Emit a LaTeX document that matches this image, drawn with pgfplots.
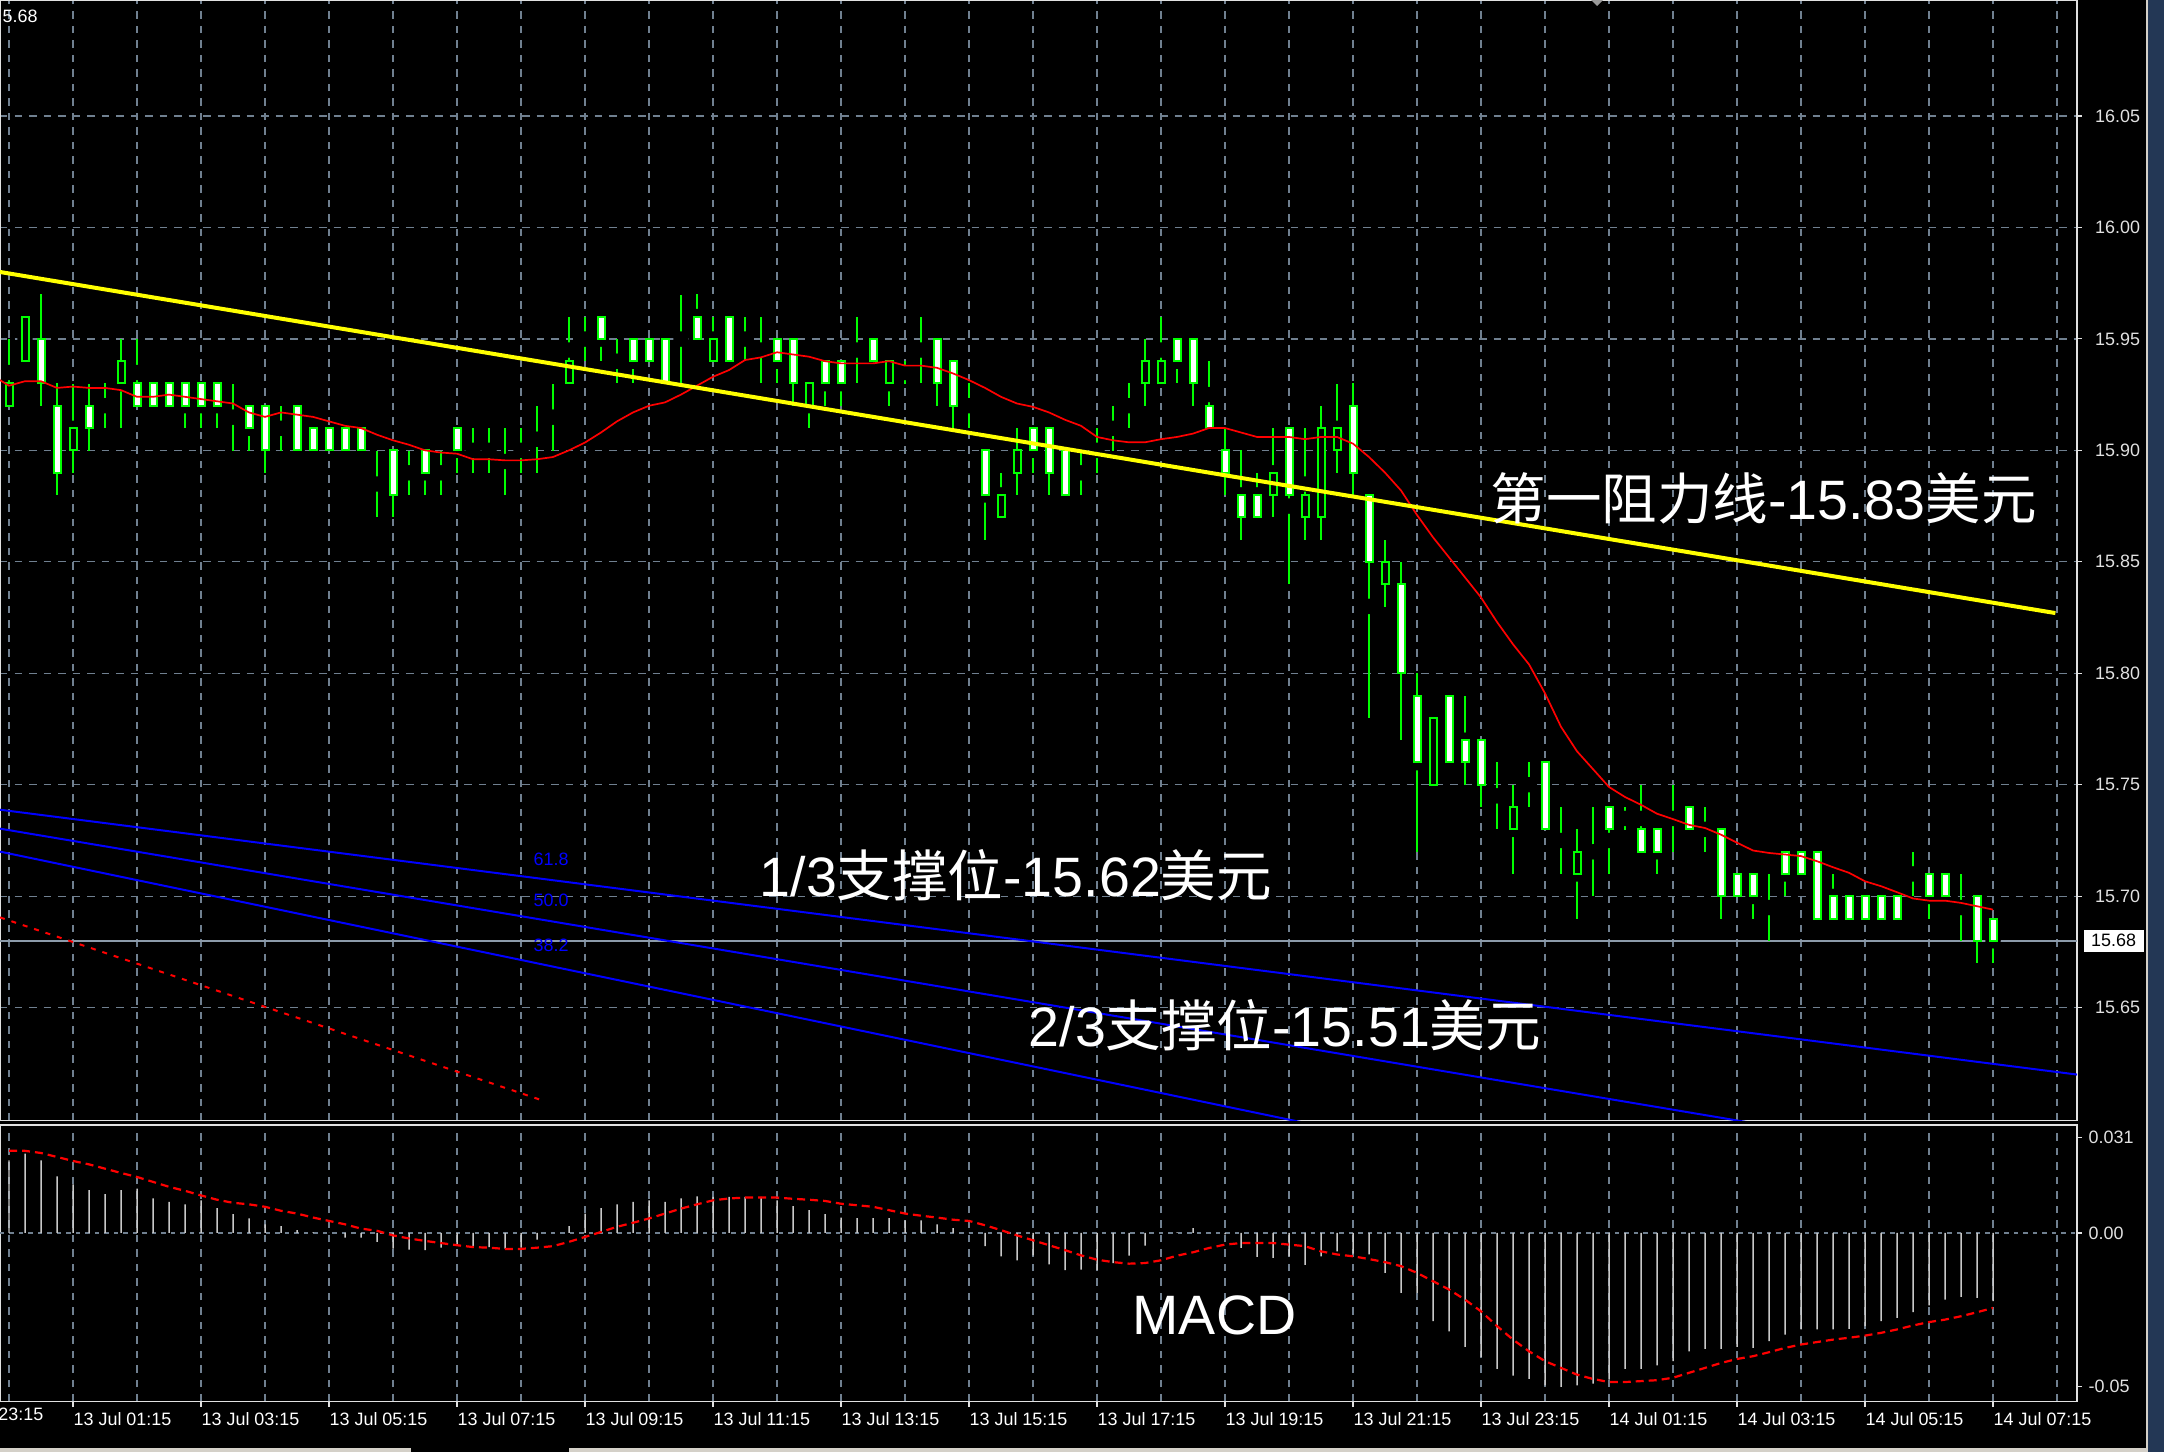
\documentclass[border=0pt]{standalone}
\usepackage{pgfplots}
\pgfplotsset{compat=1.18}
\usepackage{pgfplotstable}
\usepackage{fontspec}
\setmainfont{Liberation Sans}
\newfontfamily\cjk{Noto Sans CJK SC}
\definecolor{cgreen}{RGB}{0,255,0}
\definecolor{gridc}{RGB}{112,128,144}
\definecolor{pricel}{RGB}{140,155,170}
\definecolor{histc}{RGB}{200,200,200}
\definecolor{fibblue}{RGB}{0,0,255}
\definecolor{ylw}{RGB}{255,255,0}
\definecolor{axc}{RGB}{225,225,225}
\definecolor{winbg}{RGB}{212,208,200}
\definecolor{deskblue}{RGB}{35,55,85}

\pgfplotstableread{
k o h l c
-4 15.92 15.95 15.92 15.93
-3 15.94 15.96 15.94 15.96
-2 15.95 15.97 15.92 15.93
-1 15.92 15.93 15.88 15.89
0 15.90 15.93 15.89 15.91
1 15.92 15.93 15.90 15.91
2 15.92 15.93 15.91 15.92
3 15.93 15.95 15.91 15.94
4 15.93 15.95 15.92 15.92
5 15.93 15.93 15.92 15.92
6 15.93 15.93 15.92 15.92
7 15.93 15.93 15.91 15.92
8 15.93 15.93 15.91 15.92
9 15.93 15.93 15.91 15.92
10 15.91 15.93 15.90 15.91
11 15.92 15.92 15.90 15.91
12 15.92 15.92 15.89 15.90
13 15.91 15.92 15.90 15.91
14 15.92 15.92 15.90 15.90
15 15.91 15.91 15.90 15.90
16 15.91 15.91 15.90 15.90
17 15.91 15.91 15.90 15.90
18 15.91 15.91 15.90 15.90
19 15.89 15.90 15.87 15.89
20 15.90 15.90 15.87 15.88
21 15.89 15.90 15.88 15.89
22 15.90 15.90 15.88 15.89
23 15.90 15.90 15.88 15.90
24 15.91 15.91 15.89 15.90
25 15.89 15.91 15.89 15.89
26 15.90 15.91 15.89 15.90
27 15.89 15.91 15.88 15.89
28 15.90 15.91 15.89 15.90
29 15.91 15.92 15.89 15.91
30 15.92 15.93 15.90 15.92
31 15.93 15.96 15.93 15.94
32 15.95 15.96 15.94 15.95
33 15.96 15.96 15.94 15.95
34 15.94 15.95 15.93 15.94
35 15.95 15.95 15.93 15.94
36 15.95 15.95 15.94 15.94
37 15.95 15.95 15.93 15.93
38 15.95 15.97 15.93 15.95
39 15.96 15.97 15.95 15.95
40 15.94 15.96 15.94 15.95
41 15.96 15.96 15.94 15.94
42 15.95 15.96 15.94 15.95
43 15.94 15.96 15.93 15.94
44 15.95 15.95 15.93 15.94
45 15.95 15.95 15.92 15.93
46 15.92 15.93 15.91 15.93
47 15.94 15.94 15.92 15.93
48 15.94 15.94 15.92 15.93
49 15.94 15.96 15.93 15.94
50 15.95 15.95 15.94 15.94
51 15.93 15.94 15.92 15.94
52 15.93 15.94 15.93 15.93
53 15.94 15.96 15.93 15.94
54 15.95 15.95 15.92 15.93
55 15.94 15.94 15.91 15.92
56 15.91 15.93 15.91 15.91
57 15.90 15.90 15.86 15.88
58 15.87 15.89 15.87 15.88
59 15.89 15.91 15.88 15.90
60 15.91 15.91 15.89 15.90
61 15.91 15.91 15.88 15.89
62 15.90 15.90 15.88 15.88
63 15.89 15.90 15.88 15.89
64 15.90 15.91 15.89 15.90
65 15.91 15.92 15.90 15.91
66 15.92 15.93 15.91 15.92
67 15.93 15.95 15.92 15.94
68 15.93 15.96 15.93 15.94
69 15.95 15.95 15.93 15.94
70 15.95 15.95 15.92 15.93
71 15.92 15.94 15.91 15.91
72 15.90 15.91 15.88 15.89
73 15.88 15.90 15.86 15.87
74 15.88 15.89 15.87 15.87
75 15.88 15.91 15.87 15.89
76 15.91 15.91 15.84 15.88
77 15.87 15.91 15.86 15.88
78 15.87 15.92 15.86 15.91
79 15.90 15.93 15.89 15.91
80 15.92 15.93 15.88 15.89
81 15.88 15.88 15.78 15.85
82 15.84 15.86 15.83 15.85
83 15.84 15.85 15.77 15.80
84 15.79 15.80 15.72 15.76
85 15.75 15.78 15.75 15.78
86 15.79 15.79 15.76 15.76
87 15.77 15.79 15.75 15.76
88 15.77 15.77 15.74 15.75
89 15.74 15.76 15.73 15.74
90 15.73 15.75 15.71 15.74
91 15.75 15.76 15.74 15.75
92 15.76 15.76 15.73 15.73
93 15.72 15.74 15.71 15.72
94 15.71 15.73 15.69 15.72
95 15.73 15.74 15.70 15.73
96 15.74 15.74 15.71 15.73
97 15.74 15.74 15.73 15.74
98 15.73 15.75 15.72 15.72
99 15.73 15.73 15.71 15.72
100 15.73 15.75 15.72 15.73
101 15.74 15.74 15.73 15.73
102 15.72 15.74 15.72 15.72
103 15.73 15.73 15.69 15.70
104 15.71 15.71 15.70 15.70
105 15.71 15.71 15.69 15.70
106 15.71 15.71 15.68 15.71
107 15.72 15.72 15.70 15.71
108 15.72 15.72 15.71 15.71
109 15.72 15.72 15.69 15.69
110 15.70 15.71 15.69 15.69
111 15.70 15.70 15.69 15.69
112 15.70 15.70 15.69 15.69
113 15.70 15.70 15.69 15.69
114 15.70 15.70 15.69 15.69
115 15.70 15.72 15.70 15.70
116 15.71 15.71 15.69 15.70
117 15.71 15.71 15.70 15.70
118 15.69 15.71 15.68 15.69
119 15.70 15.70 15.67 15.68
120 15.69 15.69 15.67 15.68
}\candles

\pgfplotstableread{
k ma
-4.5625 15.9315
-4 15.929
-3 15.931
-2 15.931
-1 15.928
0 15.9286
1 15.928
2 15.928
3 15.927
4 15.924
5 15.924
6 15.925
7 15.924
8 15.923
9 15.922
10 15.921
11 15.917
12 15.915
13 15.917
14 15.916
15 15.915
16 15.913
17 15.911
18 15.910
19 15.907
20 15.9045
21 15.9025
22 15.900
23 15.899
24 15.8985
25 15.896
26 15.896
27 15.8955
28 15.8955
29 15.896
30 15.897
31 15.900
32 15.9035
33 15.908
34 15.913
35 15.917
36 15.920
37 15.9215
38 15.925
39 15.929
40 15.933
41 15.936
42 15.9405
43 15.9417
44 15.944
45 15.943
46 15.942
47 15.940
48 15.939
49 15.939
50 15.939
51 15.940
52 15.938
53 15.938
54 15.937
55 15.9345
56 15.9315
57 15.928
58 15.924
59 15.921
60 15.9195
61 15.917
62 15.9137
63 15.911
64 15.906
65 15.9045
66 15.9036
67 15.9036
68 15.905
69 15.906
70 15.9075
71 15.910
72 15.910
73 15.908
74 15.906
75 15.906
76 15.906
77 15.905
78 15.906
79 15.906
80 15.903
81 15.897
82 15.890
83 15.882
84 15.871
85 15.861
86 15.852
87 15.843
88 15.834
89 15.823
90 15.813
91 15.804
92 15.791
93 15.776
94 15.765
95 15.757
96 15.749
97 15.7445
98 15.741
99 15.737
100 15.7346
101 15.732
102 15.7306
103 15.7276
104 15.724
105 15.7205
106 15.7194
107 15.7187
108 15.718
109 15.7157
110 15.713
111 15.7105
112 15.7067
113 15.7045
114 15.7018
115 15.699
116 15.698
117 15.698
118 15.697
119 15.6955
120 15.694
}\matab

\pgfplotstableread{
k hist sig
-4 0.0236 0.0267
-3 0.0258 0.0267
-2 0.0236 0.0260
-1 0.0184 0.0247
0 0.0158 0.0234
1 0.0139 0.0223
2 0.0126 0.0209
3 0.0139 0.0195
4 0.0144 0.0182
5 0.0112 0.0166
6 0.0101 0.0150
7 0.0093 0.0137
8 0.0106 0.0122
9 0.0081 0.0108
10 0.0061 0.0098
11 0.0047 0.0093
12 0.0028 0.0085
13 0.0022 0.0072
14 0.0009 0.0063
15 0.0002 0.0050
16 0.0000 0.0039
17 -0.0015 0.0028
18 -0.0015 0.0014
19 -0.0029 0.0007
20 -0.0051 -0.0008
21 -0.0054 -0.0018
22 -0.0056 -0.0026
23 -0.0048 -0.0033
24 -0.0037 -0.0040
25 -0.0046 -0.0046
26 -0.0046 -0.0048
27 -0.0051 -0.0052
28 -0.0048 -0.0052
29 -0.0022 -0.0048
30 0.0000 -0.0043
31 0.0022 -0.0029
32 0.0063 -0.0013
33 0.0081 0.0003
34 0.0093 0.0020
35 0.0101 0.0033
36 0.0106 0.0047
37 0.0101 0.0063
38 0.0112 0.0079
39 0.0119 0.0093
40 0.0117 0.0106
41 0.0117 0.0112
42 0.0117 0.0115
43 0.0117 0.0115
44 0.0106 0.0115
45 0.0087 0.0111
46 0.0074 0.0108
47 0.0061 0.0104
48 0.0050 0.0095
49 0.0048 0.0090
50 0.0048 0.0085
51 0.0048 0.0074
52 0.0041 0.0063
53 0.0041 0.0056
54 0.0028 0.0050
55 0.0016 0.0043
56 0.0000 0.0039
57 -0.0043 0.0025
58 -0.0076 0.0009
59 -0.0089 -0.0008
60 -0.0073 -0.0024
61 -0.0102 -0.0040
62 -0.0121 -0.0056
63 -0.0119 -0.0073
64 -0.0121 -0.0087
65 -0.0098 -0.0095
66 -0.0074 -0.0100
67 -0.0041 -0.0098
68 0.0000 -0.0089
69 0.0002 -0.0074
70 0.0016 -0.0063
71 0.0000 -0.0049
72 -0.0005 -0.0038
73 -0.0049 -0.0033
74 -0.0078 -0.0033
75 -0.0081 -0.0033
76 -0.0076 -0.0038
77 -0.0104 -0.0043
78 -0.0076 -0.0060
79 -0.0060 -0.0070
80 -0.0067 -0.0076
81 -0.0070 -0.0085
82 -0.0130 -0.0095
83 -0.0195 -0.0108
84 -0.0195 -0.0130
85 -0.0287 -0.0157
86 -0.0320 -0.0184
87 -0.0371 -0.0217
88 -0.0403 -0.0255
89 -0.0442 -0.0303
90 -0.0464 -0.0347
91 -0.0475 -0.0385
92 -0.0496 -0.0417
93 -0.0501 -0.0439
94 -0.0496 -0.0461
95 -0.0490 -0.0475
96 -0.0477 -0.0485
97 -0.0442 -0.0485
98 -0.0442 -0.0482
99 -0.0431 -0.0479
100 -0.0417 -0.0471
101 -0.0385 -0.0455
102 -0.0377 -0.0439
103 -0.0377 -0.0423
104 -0.0371 -0.0410
105 -0.0374 -0.0401
106 -0.0352 -0.0388
107 -0.0331 -0.0374
108 -0.0314 -0.0363
109 -0.0314 -0.0355
110 -0.0314 -0.0347
111 -0.0312 -0.0341
112 -0.0303 -0.0334
113 -0.0287 -0.0325
114 -0.0276 -0.0314
115 -0.0258 -0.0301
116 -0.0236 -0.0290
117 -0.0217 -0.0282
118 -0.0208 -0.0271
119 -0.0211 -0.0258
120 -0.0222 -0.0244
}\macdtab

\newcommand\tickfont{\fontsize{5.1}{6}\selectfont}
\newcommand\bigfont{\fontsize{15.8}{18}\selectfont}
\pgfplotsset{pricepanel/.style={
  at={(0mm,0mm)}, anchor=north west,
  scale only axis, width=207.7mm, height=112.07mm,
  xmin=-4.5625, xmax=125.25, ymin=15.5993, ymax=16.1020, clip=true}}

\begin{document}
\begin{tikzpicture}
\useasboundingbox (0,0) rectangle (216.4mm,-145.2mm);
\fill[black] (0,0) rectangle (216.4mm,-145.2mm);
\fill[deskblue] (214.8mm,0) rectangle (216.4mm,-145.2mm);
\draw[winbg, line width=0.25mm] (214.7mm,0) -- (214.7mm,-145.2mm);
\fill[winbg] (0,-144.75mm) rectangle (41.1mm,-145.2mm);
\fill[winbg] (56.9mm,-144.75mm) rectangle (214.6mm,-145.2mm);

% ---------------- price panel: frame, grid, wicks ----------------
\begin{axis}[
  pricepanel,
  axis line style={draw=axc, line width=0.13mm},
  xtick={-4,0,...,124}, xticklabels={}, xtick style={draw=none},
  xmajorgrids=true, ymajorgrids=true,
  major grid style={draw=gridc, line width=0.13mm, dash pattern=on 0.75mm off 0.7mm},
  ytick={15.65,15.70,15.75,15.80,15.85,15.90,15.95,16.00,16.05},
  yticklabels={15.65,15.70,15.75,15.80,15.85,15.90,15.95,16.00,16.05},
  scaled y ticks=false,
  ytick pos=right, yticklabel pos=right,
  tick align=outside, major tick length=0.45mm,
  ytick style={draw=axc, line width=0.12mm},
  yticklabel style={font=\tickfont, text=axc, anchor=west, inner sep=0pt, xshift=1.3mm},
]
\addplot[draw=pricel, line width=0.15mm] coordinates {(-4.5625,15.68) (125.25,15.68)};
\addplot[only marks, mark=none, error bars/.cd, y dir=both, y explicit, error mark=none,
  error bar style={draw=cgreen, line width=0.17mm, line cap=butt}]
  table[x=k, y expr={(\thisrow{h}+\thisrow{l})/2}, y error expr={(\thisrow{h}-\thisrow{l})/2}] {\candles};
\end{axis}

% ---------------- price panel: candle bodies ----------------
\begin{axis}[pricepanel, hide axis, ybar stacked, bar width=0.7mm]
\addplot[fill=none, draw=none] table[x=k, y expr={min(\thisrow{o},\thisrow{c})}] {\candles};
\addplot[fill=white, draw=cgreen, line width=0.2mm] table[x=k, y expr={max(\thisrow{o}-\thisrow{c},0)}] {\candles};
\addplot[fill=black, draw=cgreen, line width=0.2mm] table[x=k, y expr={max(\thisrow{c}-\thisrow{o},0)}] {\candles};
\end{axis}

% ---------------- price panel: overlay lines ----------------
\begin{axis}[pricepanel, hide axis]
\addplot[draw=red, line width=0.17mm, mark=none] table[x=k, y=ma] {\matab};
\addplot[draw=fibblue, line width=0.2mm, mark=none] coordinates {(-4.5625,15.7388) (125.25,15.6200)};
\addplot[draw=fibblue, line width=0.2mm, mark=none] coordinates {(-4.5625,15.7303) (125.25,15.5738)};
\addplot[draw=fibblue, line width=0.2mm, mark=none] coordinates {(-4.5625,15.7200) (125.25,15.5263)};
\addplot[draw=red, line width=0.2mm, dash pattern=on 0.5mm off 0.7mm, mark=none] coordinates {(-4.5625,15.6905) (29.5,15.608)};
\addplot[draw=ylw, line width=0.4mm, mark=none] coordinates {(-4.5625,15.980) (123.9,15.827)};
\end{axis}

% ---------------- MACD panel ----------------
\begin{axis}[
  at={(0mm,-112.5mm)}, anchor=north west,
  scale only axis, width=207.7mm, height=27.67mm,
  xmin=-4.5625, xmax=125.25, ymin=-0.0549, ymax=0.0351,
  axis line style={draw=axc, line width=0.13mm},
  xtick={0,8,...,120},
  xticklabels={13 Jul 01:15,13 Jul 03:15,13 Jul 05:15,13 Jul 07:15,13 Jul 09:15,13 Jul 11:15,13 Jul 13:15,13 Jul 15:15,13 Jul 17:15,13 Jul 19:15,13 Jul 21:15,13 Jul 23:15,14 Jul 01:15,14 Jul 03:15,14 Jul 05:15,14 Jul 07:15},
  minor xtick={-4,4,...,124},
  xmajorgrids=true, xminorgrids=true,
  major grid style={draw=gridc, line width=0.13mm, dash pattern=on 0.75mm off 0.7mm},
  minor grid style={draw=gridc, line width=0.13mm, dash pattern=on 0.75mm off 0.7mm},
  xtick pos=bottom, ytick pos=right, yticklabel pos=right,
  tick align=outside, major tick length=0.5mm, minor tick length=0mm,
  tick style={draw=axc, line width=0.12mm},
  xticklabel style={font=\tickfont, text=white, anchor=north west, inner sep=0pt, yshift=-0.5mm},
  ytick={-0.05,0.031}, yticklabels={-0.05,0.031},
  scaled y ticks=false,
  extra y ticks={0}, extra y tick labels={0.00},
  yticklabel style={font=\tickfont, text=axc, anchor=west, inner sep=0pt, xshift=0.6mm},
  clip=true,
]
\addplot[draw=gridc, line width=0.13mm, dash pattern=on 0.45mm off 0.5mm, mark=none] coordinates {(-4.5625,0) (125.25,0)};
\addplot[ybar, bar width=0.15mm, fill=histc, draw=none] table[x=k, y=hist] {\macdtab};
\addplot[draw=red, line width=0.22mm, dash pattern=on 0.8mm off 0.5mm, mark=none] table[x=k, y=sig] {\macdtab};
\end{axis}

% ---------------- annotations ----------------
\node[anchor=north west, inner sep=0pt, text=white, font=\tickfont] at (-5.5mm,-140.7mm) {12 Jul 23:15};
\node[anchor=north west, inner sep=0pt, text=white, font=\tickfont] at (0.2mm,-0.9mm) {5.68};
\node[anchor=west, fill=white, text=black, font=\tickfont, inner xsep=0.75mm, inner ysep=0.45mm] at (208.3mm,-94.07mm) {15.68};
\fill[gray!80] (159.1mm,0) -- (160.3mm,0) -- (159.7mm,-0.6mm) -- cycle;

\node[anchor=west, inner sep=0pt, text=fibblue, font=\tickfont] at (53.3mm,-85.93mm) {61.8};
\node[anchor=west, inner sep=0pt, text=fibblue, font=\tickfont] at (53.3mm,-90.07mm) {50.0};
\node[anchor=west, inner sep=0pt, text=fibblue, font=\tickfont] at (53.3mm,-94.5mm) {38.2};

\node[anchor=west, inner sep=0pt, text=white, font=\bigfont] at (149.0mm,-49.8mm) {{\cjk 第一阻力线}-15.83{\cjk 美元}};
\node[anchor=west, inner sep=0pt, text=white, font=\bigfont] at (75.9mm,-87.5mm) {1/3{\cjk 支撑位}-15.62{\cjk 美元}};
\node[anchor=west, inner sep=0pt, text=white, font=\bigfont] at (102.8mm,-102.5mm) {2/3{\cjk 支撑位}-15.51{\cjk 美元}};
\node[anchor=west, inner sep=0pt, text=white, font=\bigfont] at (113.2mm,-131.5mm) {MACD};
\end{tikzpicture}
\end{document}
